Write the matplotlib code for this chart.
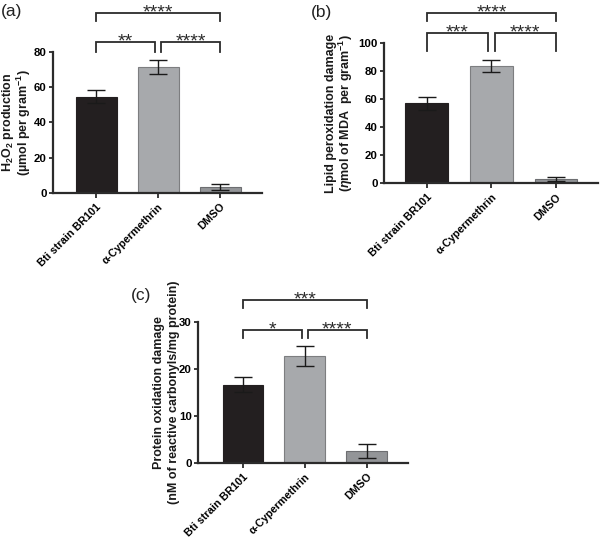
import matplotlib
matplotlib.use("Agg")
import matplotlib.pyplot as plt
import matplotlib.transforms as mtransforms

plt.rcParams['font.family'] = ['Liberation Sans', 'DejaVu Sans']
plt.rcParams['mathtext.fontset'] = 'custom'
plt.rcParams['mathtext.rm'] = 'Liberation Sans:bold'
plt.rcParams['mathtext.it'] = 'Liberation Sans:bold:italic'
plt.rcParams['mathtext.bf'] = 'Liberation Sans:bold'

categories = ["Bti strain BR101", "α-Cypermethrin", "DMSO"]

h2o2_mean = [54.7, 71.5, 3.4]
h2o2_err = [3.7, 4.1, 1.7]

lipid_mean = [56.9, 83.4, 2.9]
lipid_err = [4.7, 4.1, 1.6]

protein_mean = [16.6, 22.7, 2.6]
protein_err = [1.6, 2.1, 1.5]

sig_a = ["**", "****", "****"]   # (0-1), (1-2), (0-2)
sig_b = ["***", "****", "****"]
sig_c = ["*", "****", "***"]

ylabel_a = ["H$_2$O$_2$ production", "(µmol per gram$^{-1}$)"]
ylabel_b = ["Lipid peroxidation damage", "($\\eta$mol of MDA  per gram$^{-1}$)"]
ylabel_c = ["Protein oxidation damage", "(nM of reactive carbonyls/mg protein)"]

bar_colors = ["#231f20", "#a7a9ac", "#939598"]
edge_colors = ["#231f20", "#7d7e80", "#6d6e71"]
axis_col = "#2b2b2b"

W, H = 600, 537
fig = plt.figure(figsize=(6, 5.37), dpi=100)


def panel(rect, means, errs, ymax, yticks, xlim, ylabel, sigs, lowy, lowleg, topy, topleg,
          label, labelpos, lab_base):
    ax = fig.add_axes(rect)
    x = range(len(categories))
    ax.bar(x, means, width=0.66, color=bar_colors, edgecolor=edge_colors, linewidth=0.8, zorder=2)
    ax.errorbar(x, means, yerr=errs, fmt='none', ecolor='#1a1a1a', elinewidth=1.0,
                capsize=6.5, capthick=1.0, zorder=3)
    ax.set_xlim(*xlim)
    ax.set_ylim(0, ymax)
    ax.set_yticks(yticks)
    ax.set_yticklabels([str(t) for t in yticks], fontsize=8.2, fontweight='bold')
    ax.set_xticks(list(x))
    ax.set_xticklabels(categories, rotation=45, ha='right', rotation_mode='anchor',
                       fontsize=7.8, fontweight='bold')
    shift = mtransforms.ScaledTranslation(3 / 100, 0, fig.dpi_scale_trans)
    for t in ax.get_xticklabels():
        t.set_transform(t.get_transform() + shift)
    for s in ['top', 'right']:
        ax.spines[s].set_visible(False)
    for s in ['left', 'bottom']:
        ax.spines[s].set_linewidth(1.6)
        ax.spines[s].set_color(axis_col)
    ax.tick_params(axis='y', width=1.3, length=3, color=axis_col, pad=1.5)
    ax.tick_params(axis='x', width=1.3, length=3.6, color=axis_col, pad=2.6)
    # two-line y label, each line placed by its baseline (pixels)
    ycen = rect[1] + rect[3] / 2
    for line, bx in zip(ylabel, lab_base):
        fig.text(bx / W, ycen, line, rotation=90, rotation_mode='anchor', ha='center',
                 va='baseline', fontsize=9, fontweight='bold', color='#1a1a1a')
    lw = 1.3
    gap = 0.05
    ax.plot([0, 0, 1 - gap, 1 - gap], [lowleg, lowy, lowy, lowleg], color=axis_col, lw=lw,
            clip_on=False, solid_joinstyle='miter')
    ax.plot([1 + gap, 1 + gap, 2, 2], [lowleg, lowy, lowy, lowleg], color=axis_col, lw=lw,
            clip_on=False, solid_joinstyle='miter')
    ax.plot([0, 0, 2, 2], [topleg, topy, topy, topleg], color=axis_col, lw=lw,
            clip_on=False, solid_joinstyle='miter')
    for xs, ys, s in [(0.5 - gap / 2, lowy, sigs[0]), (1.5 + gap / 2, lowy, sigs[1]),
                      (1.0, topy, sigs[2])]:
        ax.annotate(s, xy=(xs, ys), xytext=(0, -3), textcoords='offset points',
                    ha='center', va='baseline', fontsize=14, color=axis_col,
                    annotation_clip=False)
    fig.text(labelpos[0], labelpos[1], label, fontsize=12.5, ha='left', va='center',
             color='#222222')
    return ax


panel([0.088, 0.6406, 0.349, 0.2626], h2o2_mean, h2o2_err, 80, [0, 20, 40, 60, 80],
      (-0.70, 2.68), ylabel_a,
      sig_a, 85.7, 80, 102.1, 97.6, "(a)", (0.002, 0.978), (11, 28))

panel([0.640, 0.659, 0.357, 0.261], lipid_mean, lipid_err, 100, [0, 20, 40, 60, 80, 100],
      (-0.66, 2.65), ylabel_b,
      sig_b, 107.1, 94, 121.4, 115.7, "(b)", (0.518, 0.976), (334, 350))

panel([0.330, 0.1378, 0.350, 0.2626], protein_mean, protein_err, 30, [0, 10, 20, 30],
      (-0.73, 2.67), ylabel_c,
      sig_c, 28.3, 26.6, 34.7, 33.0, "(c)", (0.218, 0.45), (162, 177))

fig.savefig("out.png", dpi=100)
